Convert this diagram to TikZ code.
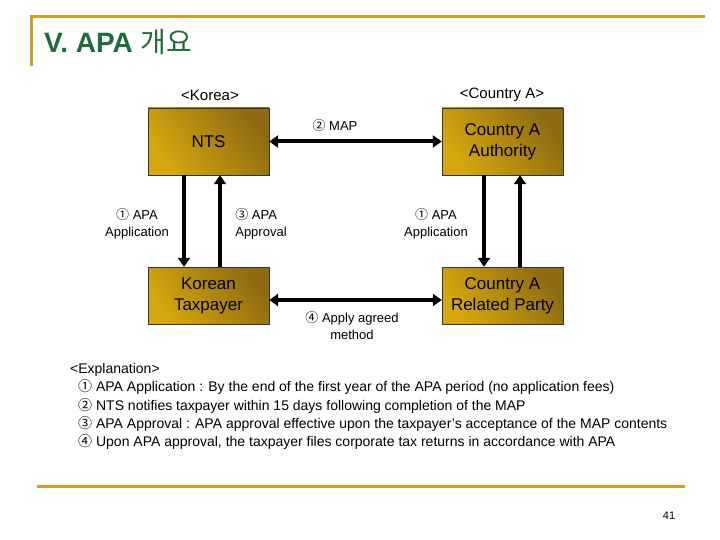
\documentclass[tikz,border=0pt]{standalone}
\usepackage{fontspec}
\setmainfont{Liberation Sans}
\newfontfamily\krfont{Noto Sans CJK KR}
\usepackage{tikz}
\usetikzlibrary{arrows.meta}
\definecolor{oro}{HTML}{C9A02A}
\definecolor{oroclaro}{HTML}{D6A80E}
\definecolor{orooscuro}{HTML}{8E6A12}
\definecolor{verde}{HTML}{1F6B3A}
\tikzstyle{caja}=[draw=black!80, left color=oroclaro, right color=orooscuro,
  shading angle=125, align=center, minimum width=121pt,
  minimum height=67pt, inner sep=1pt, font=\fontsize{17}{21}\selectfont]
\tikzstyle{cajabaja}=[caja, minimum height=57pt]
\tikzstyle{texto}=[align=center, font=\fontsize{13}{17}\selectfont]
\tikzstyle{linea}=[draw, line width=4pt, -{Triangle[length=9pt,width=12pt]}]
\tikzstyle{lineados}=[draw, line width=4pt,
  {Triangle[length=9pt,width=12pt]}-{Triangle[length=9pt,width=12pt]}]
\tikzstyle{nota}=[anchor=base west, inner sep=0pt, font=\fontsize{14}{16}\selectfont]
\newcommand{\num}[1]{{\krfont #1}}
\newcommand{\caja}[3]{node (c#1) [#2] {#3}}

\begin{document}
\begin{tikzpicture}[x=1pt,y=-1pt]
\useasboundingbox (0,0) rectangle (720,540);

  % title
\draw[oro, line width=3pt] (31,66) -- (31,17) -- (705,17);
\node[anchor=base west, inner sep=0pt, text=verde,
  font=\fontsize{28}{30}\selectfont\bfseries] (titulo) at (44,53)
  {V. APA {\krfont\mdseries 개요}};

  % Draw diagram elements
\path (208.5,141.5) \caja{1}{caja}{NTS};
\path (208.5,295.5) \caja{2}{cajabaja}{Korean\\Taxpayer};
\path (502.5,141.5) \caja{3}{caja}{Country A\\Authority};
\path (502.5,295.5) \caja{4}{cajabaja}{Country A\\Related Party};

\node[texto, font=\fontsize{15}{18}\selectfont] (k) at (210,95) {<Korea>};
\node[texto, font=\fontsize{15}{18}\selectfont] (a) at (502,95) {<Country A>};

  % Draw arrows between elements
\path [linea] ([xshift=-24.5pt]c1.south) -- ([xshift=-24.5pt]c2.north);
\path [linea] ([xshift=11.5pt]c2.north) -- ([xshift=11.5pt]c1.south);
\path [linea] ([xshift=-18.5pt]c3.south) -- ([xshift=-18.5pt]c4.north);
\path [linea] ([xshift=17.5pt]c4.north) -- ([xshift=17.5pt]c3.south);
\path [lineados] (c1) -- (c3);
\path [lineados] ([yshift=-4.5pt]c2.east) -- ([yshift=-4.5pt]c4.west);

\node[texto] (m) at (335,126) {\num{②} MAP};
\node[texto] (t1) at (137,224) {\num{①} APA\\Application};
\node[texto, align=left] (t3) at (261,224) {\num{③} APA\\Approval};
\node[texto] (t5) at (436,224) {\num{①} APA\\Application};
\node[texto] (t4) at (352,326) {\num{④} Apply agreed\\method};

  % explanation
\node[nota] (e0) at (70,373) {<Explanation>};
\node[nota] (e1) at (78,391) {\num{①} APA Application : By the end of the first year of the APA period (no application fees)};
\node[nota] (e2) at (78,410) {\num{②} NTS notifies taxpayer within 15 days following completion of the MAP};
\node[nota] (e3) at (78,428) {\num{③} APA Approval : APA approval effective upon the taxpayer's acceptance of the MAP contents};
\node[nota] (e4) at (78,446) {\num{④} Upon APA approval, the taxpayer files corporate tax returns in accordance with APA};

\draw[oro, line width=3pt] (37,486) -- (685,486);
\node[inner sep=0pt, font=\fontsize{11}{13}\selectfont] (pag) at (669,516) {41};
\end{tikzpicture}
\end{document}
